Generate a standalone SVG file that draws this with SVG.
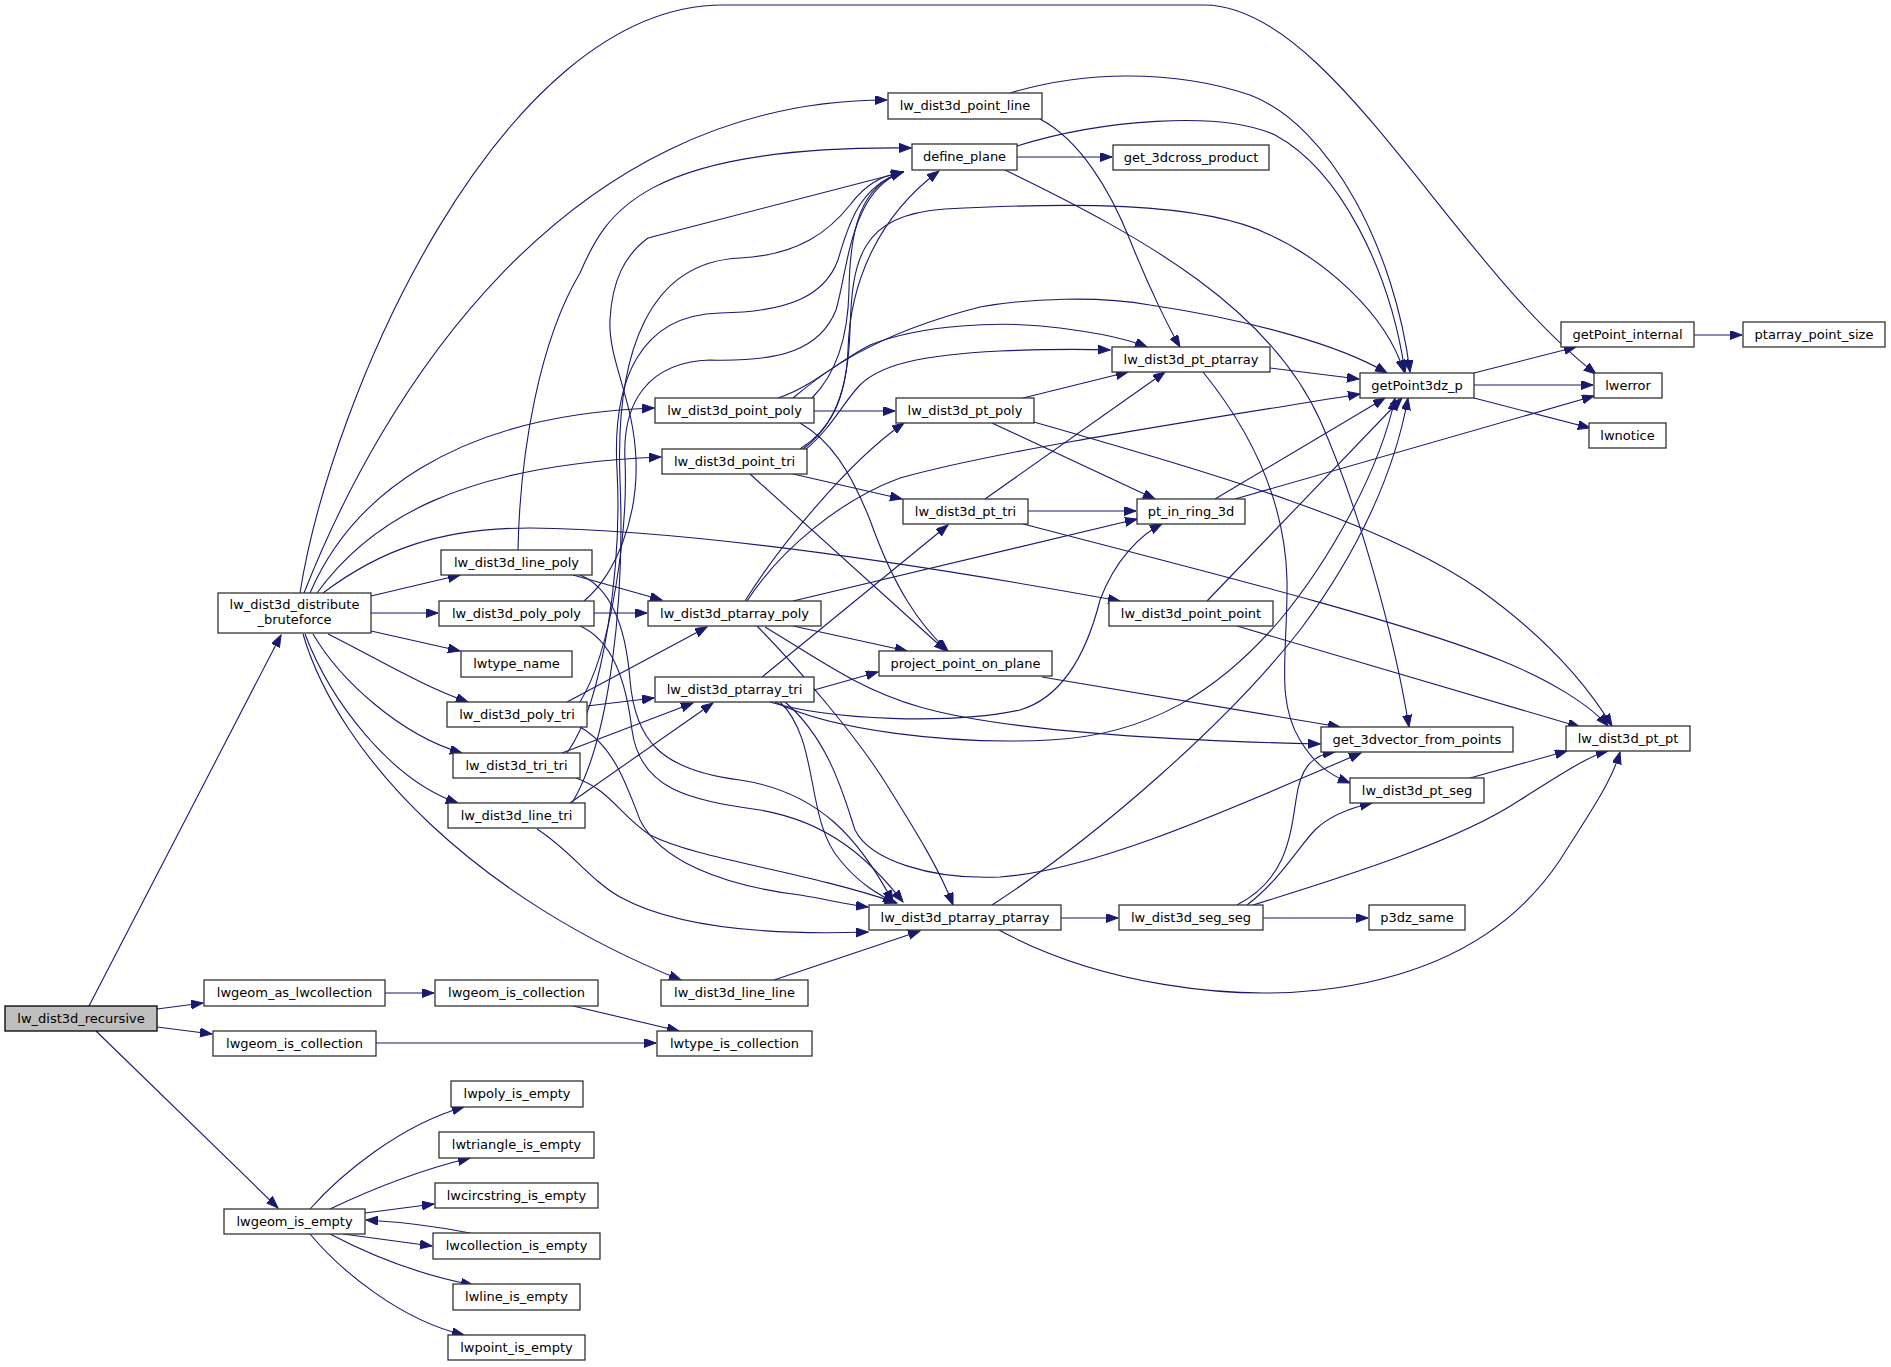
<svg xmlns="http://www.w3.org/2000/svg" width="1891" height="1367" viewBox="0 0 1891 1367">
<style>
.e{fill:none;stroke:#191970;stroke-width:1.1;marker-end:url(#a)}
.n rect{fill:#ffffff;stroke:#333333;stroke-width:1.3}
.n text{font-family:"DejaVu Sans","Liberation Sans",sans-serif;font-size:13px;fill:#000000;text-anchor:middle}
</style>
<defs>
<marker id="a" markerWidth="13" markerHeight="10" refX="12" refY="4.5" orient="auto" markerUnits="userSpaceOnUse">
<path d="M0,0 L12,4.5 L0,9 Z" fill="#191970" stroke="#191970" stroke-width="1"/>
</marker>
</defs>
<rect width="1891" height="1367" fill="#ffffff"/>
<g id="edges">
<path class="e" d="M89,1006 L281,635"/>
<path class="e" d="M157,1009 L203,1003"/>
<path class="e" d="M157,1027 L212,1034"/>
<path class="e" d="M96,1031 L278,1208"/>
<path class="e" d="M385,993 L434,993"/>
<path class="e" d="M573,1006 L679,1031"/>
<path class="e" d="M376,1043 L656,1043"/>
<path class="e" d="M310,1209 C340,1175 400,1125 464,1107"/>
<path class="e" d="M330,1209 C370,1190 420,1170 470,1158"/>
<path class="e" d="M365,1213 L434,1204"/>
<path class="e" d="M343,1234 L432,1246"/>
<path class="e" d="M470,1233 C440,1227 400,1222 366,1220"/>
<path class="e" d="M330,1234 C370,1255 420,1275 473,1285"/>
<path class="e" d="M310,1234 C340,1270 400,1320 464,1335"/>
<path class="e" d="M300,593 C330,400 500,5 723,5 L1204,5 C1330,5 1450,260 1596,374"/>
<path class="e" d="M304,593 C380,400 560,100 887,100"/>
<path class="e" d="M310,593 C350,500 450,415 654,408"/>
<path class="e" d="M317,593 C370,520 460,465 661,457"/>
<path class="e" d="M323,593 C380,550 440,528 530,528 C700,530 950,570 1120,601"/>
<path class="e" d="M371,596 L460,575"/>
<path class="e" d="M371,613 L438,613"/>
<path class="e" d="M371,631 L460,651"/>
<path class="e" d="M328,634 C380,660 420,685 468,702"/>
<path class="e" d="M313,634 C340,680 400,735 462,753"/>
<path class="e" d="M305,634 C330,700 390,780 458,803"/>
<path class="e" d="M303,634 C340,760 480,900 681,980"/>
<path class="e" d="M518,550 C520,450 540,340 580,273 C605,215 640,145 911,148"/>
<path class="e" d="M584,601 C615,575 638,520 636,460 C634,400 608,360 610,320 C612,280 625,255 648,238 L903,172"/>
<path class="e" d="M580,702 C612,650 628,530 625,460 C622,400 650,362 710,360 C780,362 820,350 836,310 C848,270 850,190 903,172"/>
<path class="e" d="M567,753 C605,700 622,560 617,470 C612,380 640,315 720,313 C790,312 825,295 838,260 C848,225 860,185 903,172"/>
<path class="e" d="M572,803 C610,740 625,600 620,480 C615,350 650,262 740,258 C800,255 830,230 850,205 C865,185 880,176 903,172"/>
<path class="e" d="M812,398 C835,375 848,340 849,290 C850,230 860,185 903,172"/>
<path class="e" d="M800,449 C830,430 846,400 848,350 C850,280 880,215 939,171"/>
<path class="e" d="M803,449 C835,425 848,390 850,330 C852,260 860,215 945,209 C1060,203 1200,200 1270,235 C1320,258 1385,310 1404,372"/>
<path class="e" d="M806,449 C830,430 845,400 860,385 C880,365 920,355 1000,351 C1050,349 1080,349 1110,350"/>
<path class="e" d="M793,398 C820,375 870,335 980,307 C1030,298 1100,296 1150,305 C1250,320 1340,345 1387,373"/>
<path class="e" d="M778,398 C810,388 840,360 870,345 C920,325 1000,320 1060,328 C1100,333 1125,338 1147,347"/>
<path class="e" d="M814,411 L895,411"/>
<path class="e" d="M800,423 C830,440 850,470 870,520 C895,590 920,625 948,651"/>
<path class="e" d="M750,474 L946,651"/>
<path class="e" d="M793,474 L902,499"/>
<path class="e" d="M1023,398 L1128,372"/>
<path class="e" d="M992,423 L1155,499"/>
<path class="e" d="M1034,422 C1200,470 1380,520 1480,590 C1550,640 1590,690 1612,726"/>
<path class="e" d="M1028,511 L1136,511"/>
<path class="e" d="M985,499 L1165,372"/>
<path class="e" d="M1023,524 C1200,570 1400,620 1500,660 C1550,680 1590,705 1608,726"/>
<path class="e" d="M1215,499 L1385,398"/>
<path class="e" d="M1235,499 L1594,396"/>
<path class="e" d="M1270,368 L1359,379"/>
<path class="e" d="M1203,372 C1250,430 1285,500 1287,580 C1288,650 1275,700 1300,740 C1315,765 1330,775 1350,783"/>
<path class="e" d="M1010,93 C1080,72 1170,68 1250,95 C1330,125 1395,250 1410,372"/>
<path class="e" d="M1040,119 C1080,140 1110,190 1130,240 C1150,290 1170,330 1180,347"/>
<path class="e" d="M1017,157 L1112,157"/>
<path class="e" d="M1017,146 C1100,120 1220,110 1275,135 C1340,170 1390,270 1405,372"/>
<path class="e" d="M1005,170 C1150,240 1270,310 1320,420 C1360,510 1395,640 1409,727"/>
<path class="e" d="M1042,677 L1340,727"/>
<path class="e" d="M1207,601 L1402,398"/>
<path class="e" d="M1237,626 L1580,727"/>
<path class="e" d="M745,601 C780,545 850,460 904,423"/>
<path class="e" d="M747,601 C780,550 840,500 900,478 C1000,450 1200,420 1360,394"/>
<path class="e" d="M793,601 L1137,519"/>
<path class="e" d="M793,626 L907,651"/>
<path class="e" d="M757,626 C800,670 860,740 890,790 C915,830 940,870 953,905"/>
<path class="e" d="M765,627 C820,660 860,690 920,707 C1000,730 1150,740 1320,744"/>
<path class="e" d="M762,677 L948,525"/>
<path class="e" d="M814,690 L878,672"/>
<path class="e" d="M770,702 C830,720 950,725 1020,710 C1070,695 1090,640 1100,600 C1115,560 1140,535 1162,524"/>
<path class="e" d="M775,702 C830,730 950,745 1050,740 C1150,735 1220,690 1280,620 C1330,560 1380,470 1395,398"/>
<path class="e" d="M785,702 C830,740 845,800 855,830 C870,860 930,880 1000,877 C1100,870 1250,800 1361,753"/>
<path class="e" d="M780,702 C820,740 805,820 840,860 C860,885 880,895 895,903"/>
<path class="e" d="M1061,918 L1118,918"/>
<path class="e" d="M992,905 C1100,835 1230,720 1300,630 C1360,550 1395,470 1408,398"/>
<path class="e" d="M999,930 C1100,985 1230,1000 1320,990 C1450,975 1520,920 1560,860 C1595,805 1612,780 1620,752"/>
<path class="e" d="M1263,918 L1368,918"/>
<path class="e" d="M1247,905 C1280,880 1300,845 1315,830 C1330,815 1350,808 1372,803"/>
<path class="e" d="M1237,905 C1285,880 1290,840 1296,800 C1300,770 1310,755 1335,752"/>
<path class="e" d="M1253,905 C1350,875 1460,840 1520,800 C1560,775 1590,755 1608,751"/>
<path class="e" d="M1470,778 L1567,751"/>
<path class="e" d="M1474,373 L1576,347"/>
<path class="e" d="M1474,385 L1593,385"/>
<path class="e" d="M1474,398 L1590,428"/>
<path class="e" d="M1694,335 L1742,335"/>
<path class="e" d="M573,575 L662,600"/>
<path class="e" d="M580,575 C612,588 626,630 630,680 C635,740 660,770 740,780 C820,792 860,840 893,902"/>
<path class="e" d="M580,626 C612,640 626,680 632,730 C640,790 690,800 760,810 C830,822 870,860 903,902"/>
<path class="e" d="M580,727 C612,745 625,780 640,820 C660,860 720,885 800,895 C830,900 850,905 868,907"/>
<path class="e" d="M576,778 C610,790 620,815 650,835 C700,860 800,870 897,903"/>
<path class="e" d="M537,829 C570,850 590,880 620,897 C680,930 780,935 868,932"/>
<path class="e" d="M774,980 L920,931"/>
<path class="e" d="M594,613 L647,613"/>
<path class="e" d="M567,702 L707,627"/>
<path class="e" d="M587,706 L654,698"/>
<path class="e" d="M562,753 L693,703"/>
<path class="e" d="M570,803 L713,703"/>
</g>
<g id="n_recursive" class="n"><rect x="5" y="1006" width="152" height="25" style="fill:#bfbfbf;stroke:#000000"/><text x="81" y="1023">lw_dist3d_recursive</text></g>
<g id="n_bruteforce" class="n"><rect x="218" y="593" width="153" height="40"/><text x="294.5" y="609">lw_dist3d_distribute</text><text x="294.5" y="624">_bruteforce</text></g>
<g id="n_as_lwcollection" class="n"><rect x="204" y="980" width="181" height="26"/><text x="294.5" y="997">lwgeom_as_lwcollection</text></g>
<g id="n_is_collection1" class="n"><rect x="435" y="980" width="163" height="26"/><text x="516.5" y="997">lwgeom_is_collection</text></g>
<g id="n_is_collection2" class="n"><rect x="213" y="1031" width="163" height="25"/><text x="294.5" y="1048">lwgeom_is_collection</text></g>
<g id="n_lwtype_is_collection" class="n"><rect x="657" y="1031" width="155" height="25"/><text x="734.5" y="1048">lwtype_is_collection</text></g>
<g id="n_lwgeom_is_empty" class="n"><rect x="224" y="1209" width="141" height="25"/><text x="294.5" y="1226">lwgeom_is_empty</text></g>
<g id="n_lwpoly_is_empty" class="n"><rect x="451" y="1081" width="132" height="26"/><text x="517" y="1098">lwpoly_is_empty</text></g>
<g id="n_lwtriangle_is_empty" class="n"><rect x="439" y="1132" width="155" height="26"/><text x="516.5" y="1149">lwtriangle_is_empty</text></g>
<g id="n_lwcircstring_is_empty" class="n"><rect x="435" y="1183" width="163" height="25"/><text x="516.5" y="1200">lwcircstring_is_empty</text></g>
<g id="n_lwcollection_is_empty" class="n"><rect x="433" y="1233" width="167" height="26"/><text x="516.5" y="1250">lwcollection_is_empty</text></g>
<g id="n_lwline_is_empty" class="n"><rect x="453" y="1284" width="127" height="26"/><text x="516.5" y="1301">lwline_is_empty</text></g>
<g id="n_lwpoint_is_empty" class="n"><rect x="448" y="1335" width="137" height="25"/><text x="516.5" y="1352">lwpoint_is_empty</text></g>
<g id="n_line_poly" class="n"><rect x="441" y="550" width="151" height="25"/><text x="516.5" y="567">lw_dist3d_line_poly</text></g>
<g id="n_poly_poly" class="n"><rect x="439" y="601" width="155" height="25"/><text x="516.5" y="618">lw_dist3d_poly_poly</text></g>
<g id="n_lwtype_name" class="n"><rect x="461" y="651" width="111" height="26"/><text x="516.5" y="668">lwtype_name</text></g>
<g id="n_poly_tri" class="n"><rect x="447" y="702" width="140" height="25"/><text x="517" y="719">lw_dist3d_poly_tri</text></g>
<g id="n_tri_tri" class="n"><rect x="453" y="753" width="127" height="25"/><text x="516.5" y="770">lw_dist3d_tri_tri</text></g>
<g id="n_line_tri" class="n"><rect x="448" y="803" width="137" height="25"/><text x="516.5" y="820">lw_dist3d_line_tri</text></g>
<g id="n_line_line" class="n"><rect x="661" y="980" width="147" height="26"/><text x="734.5" y="997">lw_dist3d_line_line</text></g>
<g id="n_point_poly" class="n"><rect x="655" y="398" width="159" height="25"/><text x="734.5" y="415">lw_dist3d_point_poly</text></g>
<g id="n_point_tri" class="n"><rect x="662" y="449" width="145" height="25"/><text x="734.5" y="466">lw_dist3d_point_tri</text></g>
<g id="n_ptarray_poly" class="n"><rect x="648" y="601" width="173" height="25"/><text x="734.5" y="618">lw_dist3d_ptarray_poly</text></g>
<g id="n_ptarray_tri" class="n"><rect x="655" y="677" width="159" height="25"/><text x="734.5" y="694">lw_dist3d_ptarray_tri</text></g>
<g id="n_ptarray_ptarray" class="n"><rect x="869" y="905" width="192" height="25"/><text x="965" y="922">lw_dist3d_ptarray_ptarray</text></g>
<g id="n_point_line" class="n"><rect x="888" y="93" width="154" height="26"/><text x="965" y="110">lw_dist3d_point_line</text></g>
<g id="n_define_plane" class="n"><rect x="912" y="144" width="105" height="26"/><text x="964.5" y="161">define_plane</text></g>
<g id="n_project_point_on_plane" class="n"><rect x="879" y="651" width="173" height="25"/><text x="965.5" y="668">project_point_on_plane</text></g>
<g id="n_pt_poly" class="n"><rect x="896" y="398" width="138" height="25"/><text x="965" y="415">lw_dist3d_pt_poly</text></g>
<g id="n_pt_tri" class="n"><rect x="903" y="499" width="125" height="25"/><text x="965.5" y="516">lw_dist3d_pt_tri</text></g>
<g id="n_get_3dcross_product" class="n"><rect x="1113" y="145" width="156" height="25"/><text x="1191" y="162">get_3dcross_product</text></g>
<g id="n_pt_ptarray" class="n"><rect x="1112" y="347" width="158" height="25"/><text x="1191" y="364">lw_dist3d_pt_ptarray</text></g>
<g id="n_pt_in_ring_3d" class="n"><rect x="1137" y="499" width="108" height="25"/><text x="1191" y="516">pt_in_ring_3d</text></g>
<g id="n_point_point" class="n"><rect x="1109" y="601" width="164" height="25"/><text x="1191" y="618">lw_dist3d_point_point</text></g>
<g id="n_getPoint3dz_p" class="n"><rect x="1360" y="373" width="114" height="25"/><text x="1417" y="390">getPoint3dz_p</text></g>
<g id="n_get_3dvector_from_points" class="n"><rect x="1321" y="727" width="192" height="25"/><text x="1417" y="744">get_3dvector_from_points</text></g>
<g id="n_pt_seg" class="n"><rect x="1350" y="778" width="134" height="25"/><text x="1417" y="795">lw_dist3d_pt_seg</text></g>
<g id="n_seg_seg" class="n"><rect x="1119" y="905" width="144" height="25"/><text x="1191" y="922">lw_dist3d_seg_seg</text></g>
<g id="n_p3dz_same" class="n"><rect x="1369" y="905" width="96" height="25"/><text x="1417" y="922">p3dz_same</text></g>
<g id="n_getPoint_internal" class="n"><rect x="1561" y="322" width="133" height="25"/><text x="1627.5" y="339">getPoint_internal</text></g>
<g id="n_ptarray_point_size" class="n"><rect x="1743" y="322" width="142" height="25"/><text x="1814" y="339">ptarray_point_size</text></g>
<g id="n_lwerror" class="n"><rect x="1594" y="373" width="68" height="25"/><text x="1628" y="390">lwerror</text></g>
<g id="n_lwnotice" class="n"><rect x="1589" y="423" width="77" height="25"/><text x="1627.5" y="440">lwnotice</text></g>
<g id="n_pt_pt" class="n"><rect x="1566" y="726" width="124" height="25"/><text x="1628" y="743">lw_dist3d_pt_pt</text></g>
</svg>
